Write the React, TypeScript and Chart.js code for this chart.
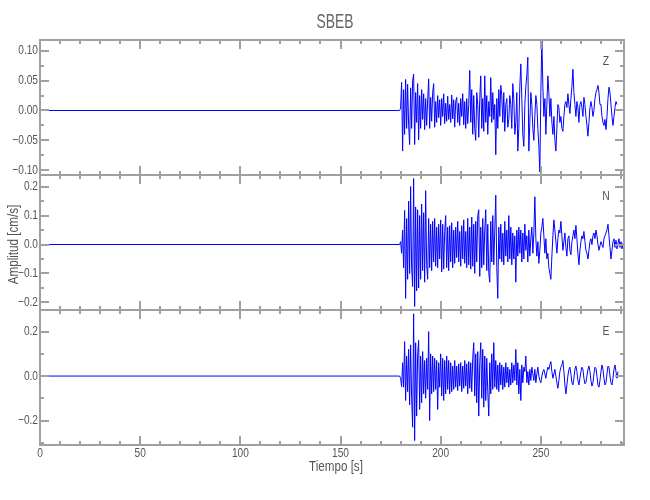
import React, { useEffect, useRef } from 'react';
import { Chart, registerables } from 'chart.js';

Chart.register(...registerables);

// ---------- text ----------
const TITLE = 'SBEB';
const X_TITLE = 'Tiempo [s]';
const Y_TITLE = 'Amplitud [cm/s]';

// ---------- x axis ----------
const X_MIN = 0;
const X_MAX = 291.5;
const X_MAJOR = [0, 50, 100, 150, 200, 250];
const X_MAJOR_LABELS = ['0', '50', '100', '150', '200', '250'];
const X_MINOR = [10, 20, 30, 40, 60, 70, 80, 90, 110, 120, 130, 140, 160, 170, 180, 190, 210, 220, 230, 240, 260, 270, 280, 290];

// ---------- time base ----------
const PRE_TIMES = [0, 179.5];
const PRE_VALUES = [0, 0];
const EVENT_START = 180;
const STEP = 0.5;

// ---------- Z component ----------
const Z_LABEL = 'Z';
const Z_RANGE = [-0.108, 0.118];
const Z_TICKS = [-0.1, -0.05, 0, 0.05, 0.1];
const Z_TICK_LABELS = ['\u22120.10', '\u22120.05', '0.00', '0.05', '0.10'];
const Z_MINOR = [-0.075, -0.025, 0.025, 0.075];
const Z_VALUES = [
  0.004, 0.047, -0.068, 0.035, -0.040, 0.052, -0.030, 0.044, -0.025, -0.057,
  0.038, -0.030, 0.050, 0.061, -0.057, 0.030, -0.020, 0.045, -0.049, 0.025,
  -0.030, 0.035, -0.015, 0.028, -0.032, 0.020, -0.025, 0.018, 0.053, -0.030,
  0.022, -0.018, 0.030, 0.045, -0.028, 0.015, -0.020, 0.025, -0.012, 0.018,
  -0.025, 0.020, -0.010, 0.028, -0.022, 0.012, -0.018, 0.024, -0.015, 0.010,
  -0.020, 0.026, -0.014, 0.018, -0.028, 0.015, 0.022, -0.020, 0.012, -0.025,
  0.020, -0.010, 0.028, -0.024, 0.015, -0.030, 0.020, -0.022, 0.010, 0.067,
  -0.020, 0.035, -0.040, 0.025, -0.030, -0.050, 0.030, 0.010, -0.045, 0.020,
  0.058, -0.030, 0.020, -0.035, 0.058, -0.020, 0.025, -0.040, 0.015, -0.010,
  0.055, -0.020, 0.030, -0.015, 0.010, -0.074, 0.020, -0.030, 0.035, -0.010,
  0.042, 0.025, -0.020, 0.030, -0.035, 0.010, 0.020, -0.028, -0.015, 0.025,
  0.010, -0.030, 0.045, 0.020, -0.040, -0.020, 0.030, -0.068, -0.030, 0.040,
  0.078, 0.020, -0.040, -0.060, 0.010, 0.040, 0.060, 0.089, -0.068, -0.020,
  0.030, 0.010, -0.030, -0.050, -0.010, 0.025, 0.010, -0.030, -0.060, -0.103,
  0.030, 0.120, 0.040, -0.010, 0.020, -0.040, 0.010, 0.058, 0.030, -0.010,
  0.020, -0.020, -0.040, -0.010, -0.050, -0.068, -0.030, 0.010, 0.005, -0.020,
  -0.010, -0.030, -0.035, -0.010, 0.010, 0.015, 0.005, 0.028, 0.010, -0.005,
  0.020, 0.040, 0.069, 0.030, 0.010, -0.010, 0.015, 0.005, -0.020, 0.010,
  0.015, 0.005, -0.010, 0.022, 0.010, -0.010, -0.025, -0.043, -0.020, 0.005,
  0.015, 0.005, -0.010, 0.000, 0.020, 0.030, 0.035, 0.042, 0.030, 0.010,
  0.010, -0.010, -0.020, -0.025, -0.015, -0.032, -0.010, 0.020, 0.039, 0.030,
  0.010, -0.010, -0.025, -0.010, 0.005, 0.015, 0.010,
];

// ---------- N component ----------
const N_LABEL = 'N';
const N_RANGE = [-0.226, 0.24];
const N_TICKS = [-0.2, -0.1, 0, 0.1, 0.2];
const N_TICK_LABELS = ['\u22120.2', '\u22120.1', '0.0', '0.1', '0.2'];
const N_MINOR = [-0.15, -0.05, 0.05, 0.15];
const N_VALUES = [
  0.010, -0.030, 0.050, -0.080, 0.118, -0.186, 0.090, -0.120, 0.150, -0.100,
  0.200, -0.080, -0.145, 0.228, -0.214, 0.130, -0.160, 0.120, -0.150, 0.100,
  -0.120, 0.140, -0.090, 0.110, -0.130, 0.186, -0.070, -0.120, 0.090, -0.080,
  0.070, -0.090, 0.080, -0.060, 0.090, -0.075, 0.060, -0.080, 0.070, -0.050,
  0.085, -0.095, 0.070, -0.085, 0.045, 0.100, -0.080, 0.060, -0.090, 0.065,
  -0.060, 0.075, -0.080, 0.050, -0.065, 0.060, -0.045, 0.080, -0.060, 0.045,
  -0.075, 0.065, -0.050, 0.085, -0.065, 0.045, -0.080, 0.090, -0.070, 0.060,
  -0.085, 0.095, -0.075, 0.070, -0.100, 0.080, -0.060, 0.100, 0.120, -0.110,
  0.060, -0.080, 0.090, -0.070, 0.050, 0.120, -0.090, 0.070, -0.100, -0.130,
  0.080, -0.060, 0.100, -0.070, 0.050, 0.170, -0.080, -0.186, 0.060, -0.050,
  0.070, -0.060, 0.040, -0.070, 0.080, -0.040, 0.050, -0.060, 0.100, -0.050,
  0.060, -0.070, 0.040, -0.050, 0.030, -0.130, 0.050, -0.040, 0.060, -0.030,
  0.050, -0.060, 0.040, -0.050, 0.070, -0.020, 0.030, -0.060, 0.050, -0.040,
  0.020, 0.060, -0.030, 0.040, 0.165, 0.020, -0.040, 0.010, -0.065, -0.020,
  0.040, 0.060, 0.090, 0.030, -0.030, 0.020, -0.050, -0.030, -0.080, -0.100,
  -0.120, -0.040, 0.030, 0.085, 0.050, 0.010, -0.030, 0.020, 0.050, 0.040,
  0.080, 0.030, -0.020, 0.010, 0.040, -0.010, -0.040, 0.020, 0.030, -0.020,
  -0.035, 0.010, 0.030, 0.050, 0.020, 0.066, 0.020, -0.030, -0.070, -0.020,
  0.010, 0.030, 0.020, 0.045, 0.010, -0.020, -0.030, -0.050, -0.020, 0.010,
  0.020, 0.000, 0.030, 0.040, 0.020, 0.050, 0.030, 0.000, -0.020, -0.005,
  0.010, 0.000, -0.010, 0.020, 0.030, 0.040, 0.050, 0.070, 0.030, -0.010,
  -0.050, -0.020, 0.010, 0.020, -0.010, 0.015, -0.015, 0.005, 0.020, -0.010,
  0.010, -0.015, 0.005,
];

// ---------- E component ----------
const E_LABEL = 'E';
const E_RANGE = [-0.31, 0.297];
const E_TICKS = [-0.2, 0, 0.2];
const E_TICK_LABELS = ['\u22120.2', '0.0', '0.2'];
const E_MINOR = [-0.3, -0.1, 0.1];
const E_VALUES = [
  -0.010, -0.048, 0.060, -0.050, 0.155, -0.110, 0.090, -0.070, 0.120, -0.130,
  0.140, -0.100, -0.230, 0.280, -0.290, 0.150, -0.180, 0.100, 0.160, -0.150,
  0.090, -0.120, 0.110, -0.080, 0.070, -0.100, 0.080, -0.060, 0.200, -0.200,
  0.100, -0.080, 0.090, -0.070, 0.080, -0.060, 0.070, -0.150, 0.060, -0.050,
  0.100, -0.090, 0.080, -0.110, 0.070, -0.080, 0.090, -0.060, 0.070, -0.080,
  0.060, -0.070, 0.045, -0.060, 0.070, -0.050, 0.045, -0.065, 0.055, -0.045,
  0.060, -0.070, 0.045, -0.055, 0.070, -0.045, 0.055, -0.080, 0.065, -0.055,
  0.060, -0.070, 0.080, 0.150, -0.090, 0.100, -0.120, 0.110, -0.180, 0.060,
  0.150, -0.100, 0.120, -0.140, 0.090, -0.110, 0.080, -0.070, -0.180, 0.060,
  -0.080, 0.100, -0.060, 0.150, -0.050, 0.070, -0.060, 0.050, -0.070, 0.060,
  -0.040, 0.050, -0.060, 0.040, -0.050, 0.060, -0.030, 0.040, -0.050, 0.030,
  -0.040, 0.060, -0.030, 0.050, -0.020, 0.120, -0.040, 0.060, -0.080, 0.030,
  -0.110, 0.050, -0.030, 0.040, 0.020, 0.090, -0.030, 0.020, -0.040, 0.030,
  -0.020, 0.040, 0.010, -0.020, 0.030, -0.030, 0.010, 0.040, 0.000, -0.020,
  -0.030, 0.000, 0.020, 0.030, 0.010, -0.010, 0.020, 0.040, 0.030, 0.050,
  0.065, 0.020, -0.010, 0.010, 0.030, 0.000, -0.030, -0.055, -0.020, 0.020,
  0.040, 0.050, 0.070, 0.020, -0.040, -0.080, -0.040, 0.000, 0.030, 0.040,
  0.010, -0.030, -0.040, -0.010, 0.030, 0.045, 0.020, -0.020, -0.040, -0.010,
  0.020, 0.040, 0.030, -0.010, -0.035, -0.030, 0.000, 0.030, 0.045, 0.020,
  -0.020, -0.045, -0.030, 0.010, 0.040, 0.035, 0.000, -0.040, -0.050, -0.020,
  0.020, 0.050, 0.030, -0.010, -0.040, -0.030, 0.010, 0.045, 0.040, 0.000,
  -0.030, -0.040, -0.010, 0.030, 0.050, 0.020, -0.010, 0.020,
];

// ---------- styling ----------
const FONT = "'Liberation Sans', Arial, sans-serif";
const TEXT_COLOR = '#555555';
const AXIS_COLOR = '#a0a0a0';
const LINE_COLOR = '#0000ff';

type PanelCfg = {
  label: string;
  range: number[];
  ticks: number[];
  tickLabels: string[];
  minor: number[];
  values: number[];
  top: number;
  height: number;
  padTop: number;
  padBottom: number;
  showX: boolean;
  title?: boolean;
  yTitle?: boolean;
  xTitle?: boolean;
};

const PANELS: PanelCfg[] = [
  { label: Z_LABEL, range: Z_RANGE, ticks: Z_TICKS, tickLabels: Z_TICK_LABELS, minor: Z_MINOR, values: Z_VALUES,
    top: 0, height: 185, padTop: 40, padBottom: 10, showX: false, title: true },
  { label: N_LABEL, range: N_RANGE, ticks: N_TICKS, tickLabels: N_TICK_LABELS, minor: N_MINOR, values: N_VALUES,
    top: 165, height: 155, padTop: 10, padBottom: 10, showX: false, yTitle: true },
  { label: E_LABEL, range: E_RANGE, ticks: E_TICKS, tickLabels: E_TICK_LABELS, minor: E_MINOR, values: E_VALUES,
    top: 300, height: 200, padTop: 10, padBottom: 0, showX: true, xTitle: true },
];

function buildPoints(values: number[]) {
  const pts = PRE_TIMES.map((t, i) => ({ x: t, y: PRE_VALUES[i] }));
  values.forEach((v, i) => pts.push({ x: EVENT_START + i * STEP, y: v }));
  return pts;
}

function drawText(ctx: CanvasRenderingContext2D, text: string, x: number, y: number, size: number,
  align: CanvasTextAlign, sx: number, rot = 0, color = TEXT_COLOR) {
  ctx.save();
  ctx.translate(x, y);
  if (rot) ctx.rotate(rot);
  ctx.scale(sx, 1);
  ctx.font = `${size}px ${FONT}`;
  ctx.fillStyle = color;
  ctx.textAlign = align;
  ctx.textBaseline = 'middle';
  ctx.fillText(text, 0, 0);
  ctx.restore();
}

function makeFramePlugin(cfg: PanelCfg) {
  return {
    id: 'seisFrame',
    afterDraw(chart: any) {
      const { ctx, chartArea: a, scales } = chart;
      const x = scales.x;
      const y = scales.y;
      ctx.save();
      ctx.strokeStyle = AXIS_COLOR;
      ctx.lineWidth = 2;
      ctx.beginPath();
      const yTick = (v: number, len: number) => {
        const py = Math.round(y.getPixelForValue(v));
        ctx.moveTo(a.left, py); ctx.lineTo(a.left + len, py);
        ctx.moveTo(a.right, py); ctx.lineTo(a.right - len, py);
      };
      const xTick = (v: number, len: number) => {
        const px = Math.round(x.getPixelForValue(v));
        ctx.moveTo(px, a.top); ctx.lineTo(px, a.top + len);
        ctx.moveTo(px, a.bottom); ctx.lineTo(px, a.bottom - len);
      };
      cfg.ticks.forEach((v) => yTick(v, 9));
      cfg.minor.forEach((v) => yTick(v, 4));
      X_MAJOR.forEach((v) => xTick(v, 9));
      X_MINOR.forEach((v) => xTick(v, 4));
      ctx.rect(a.left, a.top, a.right - a.left, a.bottom - a.top);
      ctx.stroke();
      ctx.restore();

      cfg.ticks.forEach((v, i) => {
        drawText(ctx, cfg.tickLabels[i], a.left - 2, y.getPixelForValue(v), 13, 'right', 0.78);
      });
      if (cfg.showX) {
        X_MAJOR.forEach((v, i) => {
          drawText(ctx, X_MAJOR_LABELS[i], x.getPixelForValue(v), a.bottom + 8, 13, 'center', 0.78);
        });
      }
      drawText(ctx, cfg.label, 606, a.top + 21, 13, 'center', 0.8);
      if (cfg.title) drawText(ctx, TITLE, 335, 22, 21, 'center', 0.66, 0, '#666666');
      if (cfg.yTitle) drawText(ctx, Y_TITLE, 14, 244.5 - cfg.top, 14, 'center', 0.83, -Math.PI / 2);
      if (cfg.xTitle) drawText(ctx, X_TITLE, 336, 467 - cfg.top, 14, 'center', 0.83);
    },
  };
}

function Panel({ cfg }: { cfg: PanelCfg }) {
  const ref = useRef<HTMLCanvasElement>(null);
  useEffect(() => {
    if (!ref.current) return;
    const chart = new Chart(ref.current, {
      type: 'line',
      data: {
        datasets: [
          {
            data: buildPoints(cfg.values),
            borderColor: LINE_COLOR,
            borderWidth: 1,
            pointRadius: 0,
            tension: 0,
            fill: false,
          },
        ],
      },
      options: {
        responsive: false,
        animation: false,
        events: [],
        layout: { padding: { left: 0, right: 26, top: cfg.padTop, bottom: cfg.padBottom } },
        plugins: { legend: { display: false }, tooltip: { enabled: false }, title: { display: false } },
        scales: {
          x: {
            type: 'linear',
            min: X_MIN,
            max: X_MAX,
            display: cfg.showX,
            grid: { display: false, drawTicks: false },
            border: { display: false },
            ticks: { display: false },
            afterBuildTicks: (s: any) => {
              s.ticks = X_MAJOR.map((v) => ({ value: v }));
            },
            afterFit: (s: any) => {
              s.height = cfg.showX ? 55 : 0;
            },
          },
          y: {
            type: 'linear',
            min: cfg.range[0],
            max: cfg.range[1],
            grid: { display: false, drawTicks: false },
            border: { display: false },
            ticks: { display: false },
            afterBuildTicks: (s: any) => {
              s.ticks = cfg.ticks.map((v) => ({ value: v }));
            },
            afterFit: (s: any) => {
              s.width = 40;
            },
          },
        },
      },
      plugins: [makeFramePlugin(cfg)],
    } as any);
    return () => chart.destroy();
  }, [cfg]);
  return (
    <canvas
      ref={ref}
      width={650}
      height={cfg.height}
      style={{ position: 'absolute', left: 0, top: cfg.top, width: 650, height: cfg.height }}
    />
  );
}

export default function App() {
  return (
    <div style={{ position: 'absolute', left: 0, top: 0, width: 650, height: 500, background: '#ffffff' }}>
      {PANELS.map((p) => (
        <Panel key={p.label} cfg={p} />
      ))}
    </div>
  );
}
